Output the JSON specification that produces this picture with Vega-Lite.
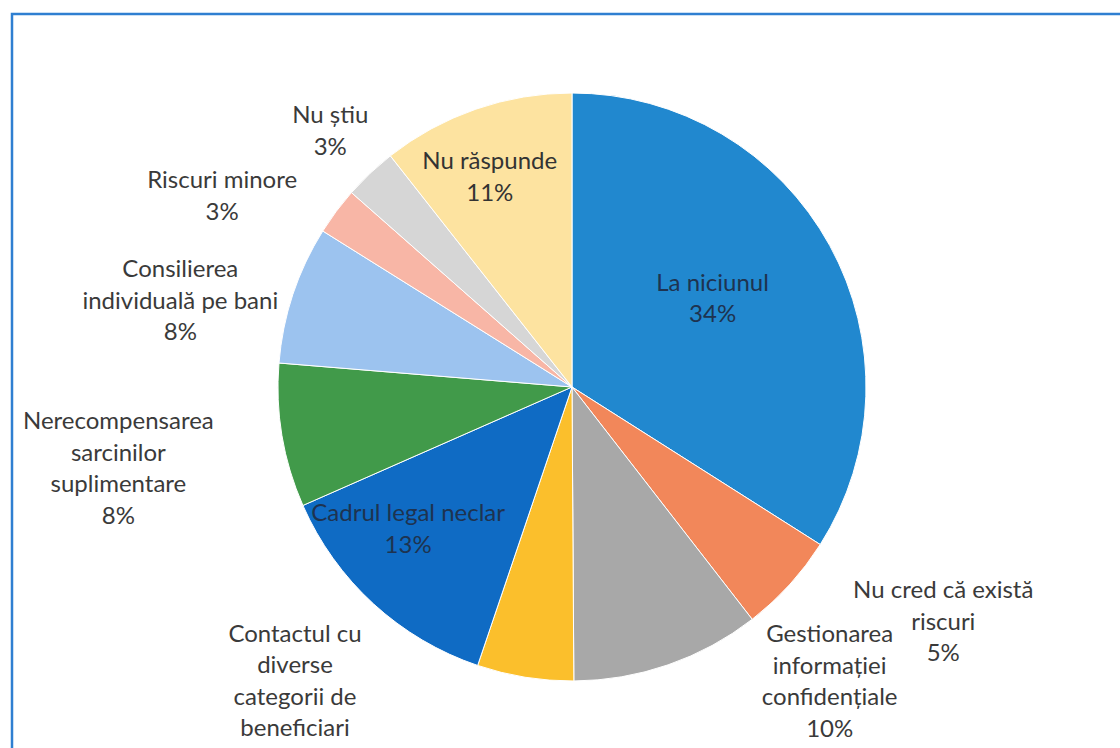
{
  "$schema": "https://vega.github.io/schema/vega-lite/v6.json",
  "width": 1120,
  "height": 746,
  "autosize": {"type": "none"},
  "padding": {"left": 12, "top": 14, "right": -12, "bottom": -12},
  "background": "#ffffff",
  "config": {
    "view": {"stroke": null},
    "text": {"font": "Lato", "fontSize": 24, "lineHeight": 31.5, "lineBreak": "\n", "color": "#3a3a3a", "align": "center", "baseline": "middle"}
  },
  "data": {
    "values": [
      {"idx": 1, "category": "La niciunul", "value": 34.0, "label": "La niciunul\n34%"},
      {"idx": 2, "category": "Nu cred că există riscuri", "value": 5.5, "label": "Nu cred că există\nriscuri\n5%"},
      {"idx": 3, "category": "Gestionarea informației confidențiale", "value": 10.4, "label": "Gestionarea\ninformației\nconfidențiale\n10%"},
      {"idx": 4, "category": "Contactul cu diverse categorii de beneficiari", "value": 5.3, "label": "Contactul cu\ndiverse\ncategorii de\nbeneficiari"},
      {"idx": 5, "category": "Cadrul legal neclar", "value": 13.2, "label": "Cadrul legal neclar\n13%"},
      {"idx": 6, "category": "Nerecompensarea sarcinilor suplimentare", "value": 7.9, "label": "Nerecompensarea\nsarcinilor\nsuplimentare\n8%"},
      {"idx": 7, "category": "Consilierea individuală pe bani", "value": 7.6, "label": "Consilierea\nindividuală pe bani\n8%"},
      {"idx": 8, "category": "Riscuri minore", "value": 2.6, "label": "Riscuri minore\n3%"},
      {"idx": 9, "category": "Nu știu", "value": 2.9, "label": "Nu știu\n3%"},
      {"idx": 10, "category": "Nu răspunde", "value": 10.6, "label": "Nu răspunde\n11%"}
    ]
  },
  "layer": [
    {
      "data": {"values": [{"frame": "border"}]},
      "mark": {"type": "rect", "fill": null, "stroke": "#2f7fd1", "strokeWidth": 2.5}
    },
    {
      "encoding": {
        "theta": {"field": "value", "type": "quantitative", "stack": true},
        "order": {"field": "idx", "type": "quantitative"},
        "detail": {"field": "idx", "type": "nominal"}
      },
      "layer": [
        {
          "mark": {"type": "arc", "outerRadius": 294, "stroke": "#ffffff", "strokeWidth": 1},
          "encoding": {
            "color": {
              "field": "category",
              "type": "nominal",
              "legend": null,
              "scale": {
                "domain": ["La niciunul", "Nu cred că există riscuri", "Gestionarea informației confidențiale", "Contactul cu diverse categorii de beneficiari", "Cadrul legal neclar", "Nerecompensarea sarcinilor suplimentare", "Consilierea individuală pe bani", "Riscuri minore", "Nu știu", "Nu răspunde"],
                "range": ["#2188cf", "#f2875a", "#a8a8a8", "#fbbf2c", "#0f6bc4", "#419a4a", "#9cc3ef", "#f8b6a6", "#d6d6d6", "#fde3a0"]
              }
            }
          }
        },
        {"mark": {"type": "text", "radius": 165, "dx": -4, "dy": -24, "color": "#1e3350"}, "encoding": {"text": {"condition": {"test": "datum.idx === 1", "field": "label"}, "value": ""}}},
        {"mark": {"type": "text", "radius": 433, "dx": 51, "dy": -87}, "encoding": {"text": {"condition": {"test": "datum.idx === 2", "field": "label"}, "value": ""}}},
        {"mark": {"type": "text", "radius": 363, "dx": 139, "dy": -95}, "encoding": {"text": {"condition": {"test": "datum.idx === 3", "field": "label"}, "value": ""}}},
        {"mark": {"type": "text", "radius": 351, "dx": -221, "dy": -99}, "encoding": {"text": {"condition": {"test": "datum.idx === 4", "field": "label"}, "value": ""}}},
        {"mark": {"type": "text", "radius": 216, "dx": -18, "dy": -32, "color": "#1e3350"}, "encoding": {"text": {"condition": {"test": "datum.idx === 5", "field": "label"}, "value": ""}}},
        {"mark": {"type": "text", "radius": 461, "dx": 1, "dy": -41}, "encoding": {"text": {"condition": {"test": "datum.idx === 6", "field": "label"}, "value": ""}}},
        {"mark": {"type": "text", "radius": 399, "dx": -13, "dy": 9}, "encoding": {"text": {"condition": {"test": "datum.idx === 7", "field": "label"}, "value": ""}}},
        {"mark": {"type": "text", "radius": 394, "dx": -34, "dy": 30}, "encoding": {"text": {"condition": {"test": "datum.idx === 8", "field": "label"}, "value": ""}}},
        {"mark": {"type": "text", "radius": 352, "dx": 0, "dy": -15}, "encoding": {"text": {"condition": {"test": "datum.idx === 9", "field": "label"}, "value": ""}}},
        {"mark": {"type": "text", "radius": 224, "dx": -9, "dy": -13, "color": "#333333"}, "encoding": {"text": {"condition": {"test": "datum.idx === 10", "field": "label"}, "value": ""}}}
      ]
    }
  ]
}
